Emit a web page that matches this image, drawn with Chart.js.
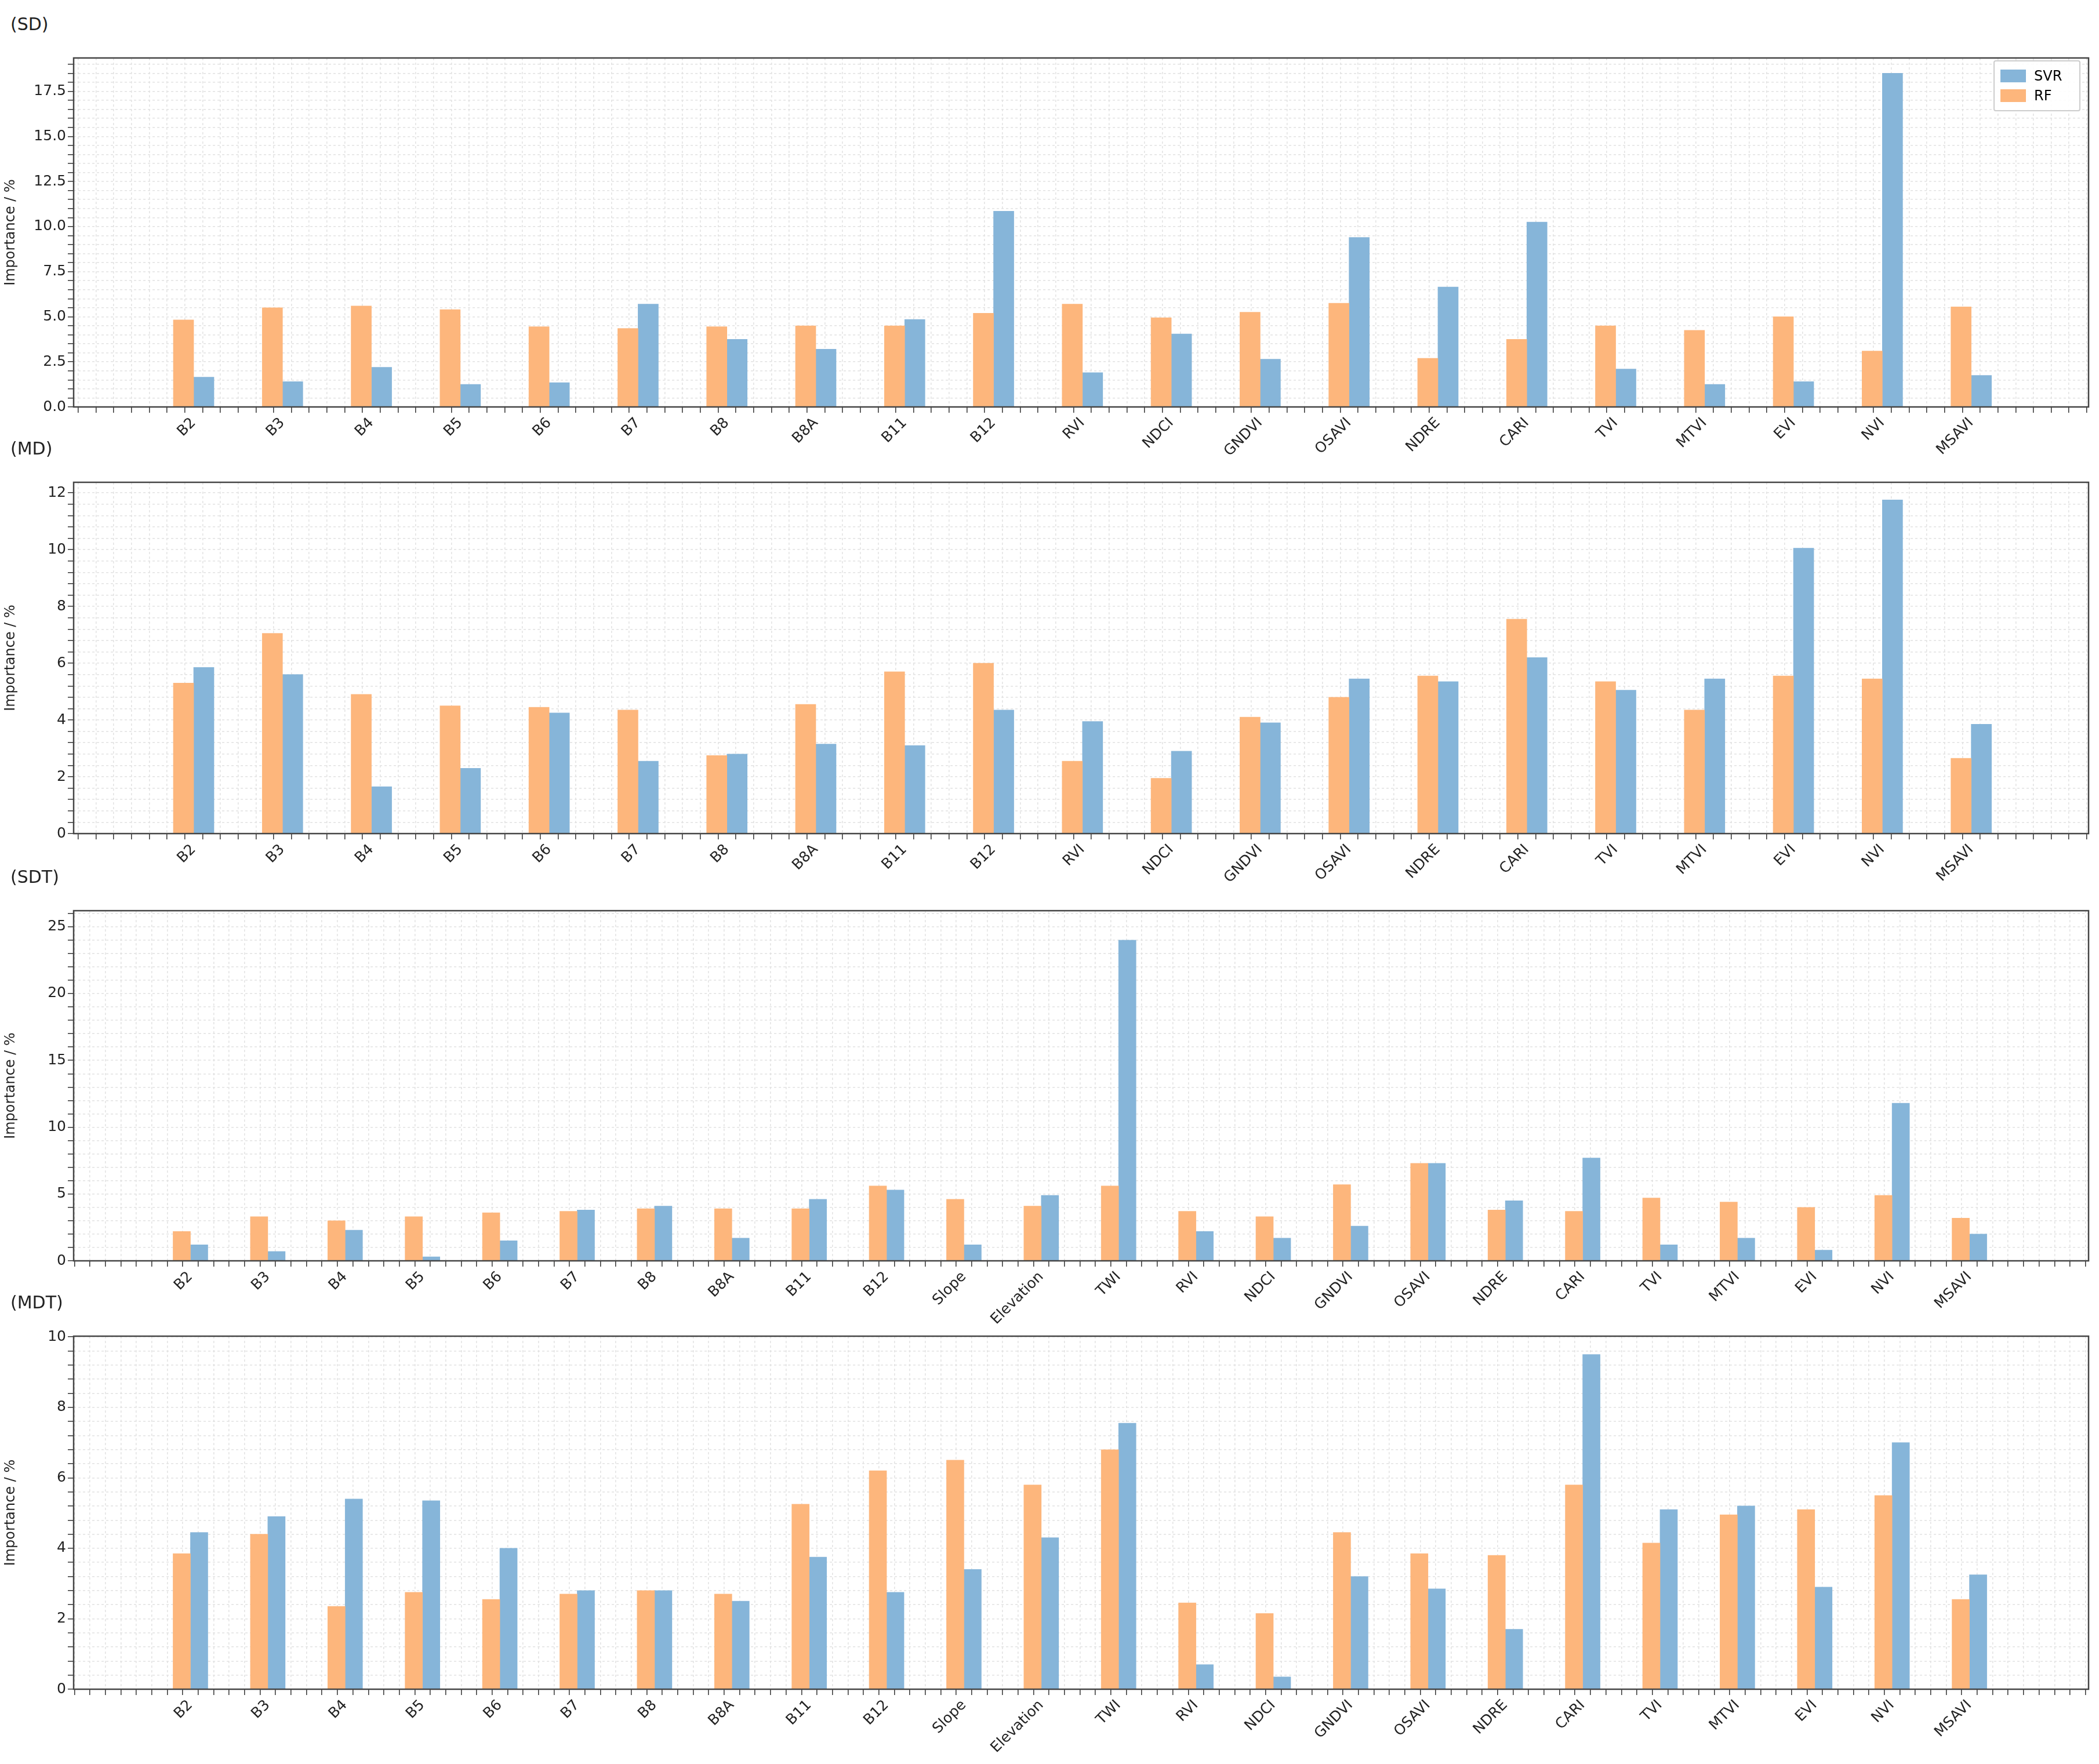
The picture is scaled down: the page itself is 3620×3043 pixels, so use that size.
<!DOCTYPE html>
<html>
<head>
<meta charset="utf-8">
<script src="https://cdn.jsdelivr.net/npm/chart.js@4.4.1/dist/chart.umd.min.js"></script>
<style>
  body { margin: 0; background: #fff; font-family: "DejaVu Sans", sans-serif; }
  #wrap { position: relative; width: 3620px; height: 3043px; }
  .panel { position: absolute; left: 0; width: 3620px; }
  .ptitle { position: absolute; left: 18px; font-size: 30px; color: #222; }
  .legend { position: absolute; left: 3438px; top: 104px; width: 150px; border: 2px solid #ccc; border-radius: 4px;
            background: rgba(255,255,255,0.9); font-size: 24px; padding: 8px 10px; box-sizing: border-box; }
  .legend div { display: flex; align-items: center; height: 34px; }
  .legend span { display: inline-block; width: 44px; height: 22px; margin-right: 14px; }
</style>
</head>
<body>
<div id="wrap"></div>
<script>
  const bands = ["B2", "B3", "B4", "B5", "B6", "B7", "B8", "B8A", "B11", "B12"];
  const indices = ["RVI", "NDCI", "GNDVI", "OSAVI", "NDRE", "CARI", "TVI", "MTVI", "EVI", "NVI", "MSAVI"];
  const catsSD = [...bands, ...indices];
  const catsSDT = [...bands, "Slope", "Elevation", "TWI", ...indices];

  const rfSD  = [4.83, 5.5, 5.6, 5.4, 4.45, 4.35, 4.45, 4.5, 4.5, 5.2, 5.7, 4.95, 5.25, 5.75, 2.7, 3.75, 4.5, 4.25, 5.0, 3.1, 5.55];
  const svrSD = [1.65, 1.4, 2.2, 1.25, 1.35, 5.7, 3.75, 3.2, 4.85, 10.85, 1.9, 4.05, 2.65, 9.4, 6.65, 10.25, 2.1, 1.25, 1.4, 18.5, 1.75];

  const rfMD  = [5.3, 7.05, 4.9, 4.5, 4.45, 4.35, 2.75, 4.55, 5.7, 6.0, 2.55, 1.95, 4.1, 4.8, 5.55, 7.55, 5.35, 4.35, 5.55, 5.45, 2.65];
  const svrMD = [5.85, 5.6, 1.65, 2.3, 4.25, 2.55, 2.8, 3.15, 3.1, 4.35, 3.95, 2.9, 3.9, 5.45, 5.35, 6.2, 5.05, 5.45, 10.05, 11.75, 3.85];

  const rfSDT  = [2.2, 3.3, 3.0, 3.3, 3.6, 3.7, 3.9, 3.9, 3.9, 5.6, 4.6, 4.1, 5.6, 3.7, 3.3, 5.7, 7.3, 3.8, 3.7, 4.7, 4.4, 4.0, 4.9, 3.2];
  const svrSDT = [1.2, 0.7, 2.3, 0.3, 1.5, 3.8, 4.1, 1.7, 4.6, 5.3, 1.2, 4.9, 24.0, 2.2, 1.7, 2.6, 7.3, 4.5, 7.7, 1.2, 1.7, 0.8, 11.8, 2.0];

  const rfMDT  = [3.85, 4.4, 2.35, 2.75, 2.55, 2.7, 2.8, 2.7, 5.25, 6.2, 6.5, 5.8, 6.8, 2.45, 2.15, 4.45, 3.85, 3.8, 5.8, 4.15, 4.95, 5.1, 5.5, 2.55];
  const svrMDT = [4.45, 4.9, 5.4, 5.35, 4.0, 2.8, 2.8, 2.5, 3.75, 2.75, 3.4, 4.3, 7.55, 0.7, 0.35, 3.2, 2.85, 1.7, 9.5, 5.1, 5.2, 2.9, 7.0, 3.25];

  const RF_COLOR = "#fdb67c";
  const SVR_COLOR = "#86b5d9";

  const panels = [
    { title: "(SD)",  cats: catsSD,  rf: rfSD,  svr: svrSD,  top: 92,   bottom: 702,  ymax: 19.35, major: 2.5, minor: 0.5, dec: 1, xmin: -1.25, xmax: 21.22, legend: true },
    { title: "(MD)",  cats: catsSD,  rf: rfMD,  svr: svrMD,  top: 824,  bottom: 1438, ymax: 12.37, major: 2,   minor: 0.4, dec: 0, xmin: -1.25, xmax: 21.22 },
    { title: "(SDT)", cats: catsSDT, rf: rfSDT, svr: svrSDT, top: 1563, bottom: 2175, ymax: 26.2,  major: 5,   minor: 1,   dec: 0, xmin: -1.41, xmax: 24.44 },
    { title: "(MDT)", cats: catsSDT, rf: rfMDT, svr: svrMDT, top: 2297, bottom: 2914, ymax: 10.02, major: 2,   minor: 0.4, dec: 0, xmin: -1.41, xmax: 24.44 },
  ];

  const frame = {
    id: "frame",
    afterDraw(chart) {
      const { ctx, chartArea: a } = chart;
      ctx.save();
      ctx.strokeStyle = "#444";
      ctx.lineWidth = 2.5;
      ctx.strokeRect(a.left, a.top, a.right - a.left, a.bottom - a.top);
      ctx.restore();
    },
  };

  const near = (v, step) => Math.abs(v / step - Math.round(v / step)) < 1e-6;
  const wrap = document.getElementById("wrap");
  const PAD_TOP = 10, XAXIS_H = 120, Y_W = 127, PAD_R = 18;

  panels.forEach((p) => {
    const t = document.createElement("div");
    t.className = "ptitle";
    t.style.top = (p.top - 68) + "px";
    t.textContent = p.title;
    wrap.appendChild(t);

    const div = document.createElement("div");
    div.className = "panel";
    div.style.top = (p.top - PAD_TOP) + "px";
    const h = p.bottom - p.top + PAD_TOP + XAXIS_H;
    div.style.height = h + "px";
    const canvas = document.createElement("canvas");
    div.appendChild(canvas);
    wrap.appendChild(div);

    const perUnit = (3620 - Y_W - PAD_R) / (p.xmax - p.xmin);
    const barW = Math.round(perUnit * 0.225);

    new Chart(canvas, {
      type: "bar",
      data: {
        datasets: [
          { label: "RF", data: p.rf.map((v, i) => ({ x: i, y: v })), backgroundColor: RF_COLOR },
          { label: "SVR", data: p.svr.map((v, i) => ({ x: i, y: v })), backgroundColor: SVR_COLOR },
        ],
      },
      options: {
        responsive: true,
        maintainAspectRatio: false,
        animation: false,
        devicePixelRatio: 1,
        barThickness: barW,
        layout: { padding: { top: PAD_TOP, right: PAD_R, left: 0, bottom: 0 } },
        plugins: { legend: { display: false }, tooltip: { enabled: false } },
        scales: {
          x: {
            type: "linear",
            min: p.xmin,
            max: p.xmax,
            afterFit: (s) => { s.height = XAXIS_H; },
            grid: { color: "#e2e2e2", lineWidth: 1.5, tickColor: "#333", tickLength: 10, drawOnChartArea: true },
            border: { dash: [4, 4], display: false },
            ticks: {
              stepSize: 0.2,
              autoSkip: false,
              includeBounds: false,
              maxRotation: 45,
              minRotation: 45,
              color: "#222",
              font: { size: 25, family: "DejaVu Sans" },
              callback: (v) => {
                if (!near(v, 1)) return "";
                const n = p.cats[Math.round(v)];
                return n === undefined ? "" : n;
              },
            },
          },
          y: {
            min: 0,
            max: p.ymax,
            afterFit: (s) => { s.width = Y_W; },
            grid: { color: "#e2e2e2", lineWidth: 1.5, tickColor: "#333", tickLength: 10 },
            border: { dash: [4, 4], display: false },
            title: { display: true, text: "Importance / %", color: "#222", font: { size: 24, family: "DejaVu Sans" }, padding: 4 },
            ticks: {
              stepSize: p.minor,
              autoSkip: false,
              includeBounds: false,
              color: "#222",
              font: { size: 25, family: "DejaVu Sans" },
              callback: (v) => (near(v, p.major) ? Number(v).toFixed(p.dec) : ""),
            },
          },
        },
      },
      plugins: [frame],
    });

    if (p.legend) {
      const lg = document.createElement("div");
      lg.className = "legend";
      lg.innerHTML = `<div><span style="background:${SVR_COLOR}"></span>SVR</div><div><span style="background:${RF_COLOR}"></span>RF</div>`;
      wrap.appendChild(lg);
    }
  });
</script>
</body>
</html>
